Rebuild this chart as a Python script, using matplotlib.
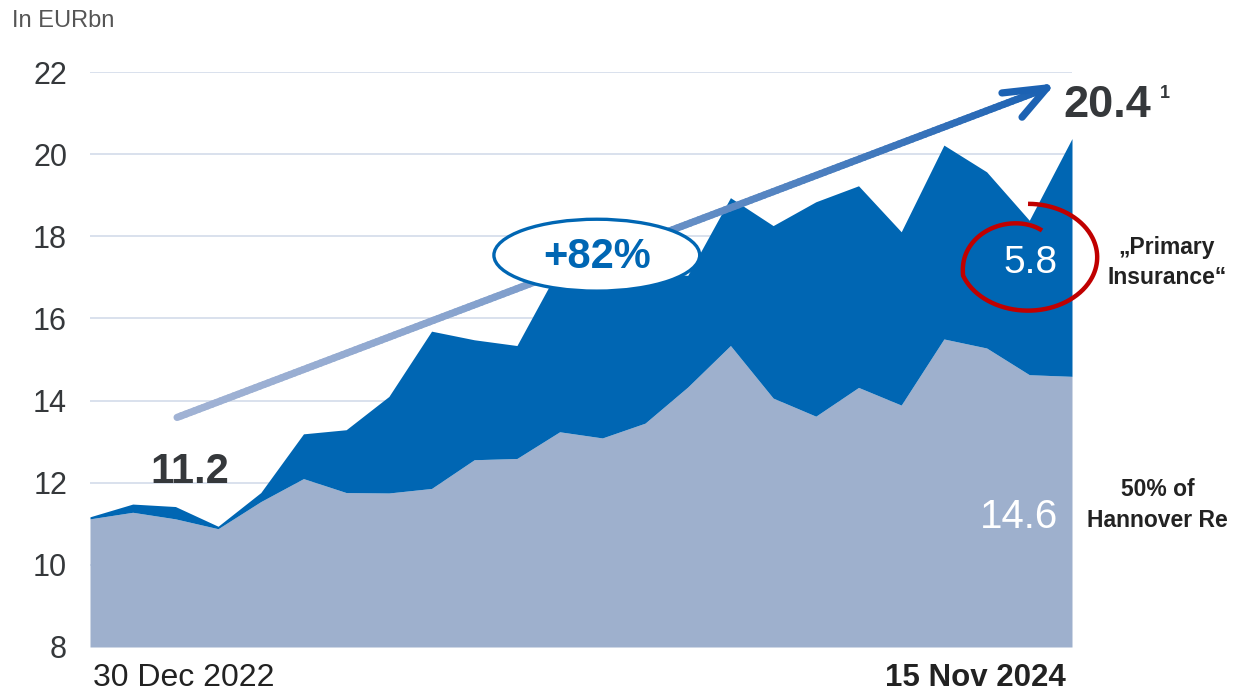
import matplotlib
matplotlib.use("Agg")
import matplotlib.pyplot as plt
import numpy as np
from matplotlib.collections import LineCollection
from matplotlib.patches import Ellipse
from matplotlib.colors import to_rgb

plt.rcParams['font.family'] = ['Liberation Sans', 'DejaVu Sans']

# market value in EURbn, 30 Dec 2022 .. 15 Nov 2024
hannover_re = [11.12, 11.28, 11.12, 10.88, 11.54, 12.10, 11.76, 11.75, 11.86, 12.56, 12.59, 13.24,
               13.09, 13.45, 14.33, 15.34, 14.06, 13.62, 14.32, 13.89, 15.50, 15.28, 14.63, 14.59]
primary_ins = [0.05, 0.20, 0.30, 0.06, 0.22, 1.09, 1.53, 2.35, 3.83, 2.92, 2.75, 4.01,
               3.91, 3.65, 2.72, 3.60, 4.20, 5.22, 4.91, 4.22, 4.72, 4.29, 3.76, 5.79]
yticks = [8, 10, 12, 14, 16, 18, 20, 22]
start_label = "30 Dec 2022"
end_label = "15 Nov 2024"

GREY_BLUE = "#9eb0cd"
BLUE = "#0066b3"
TXT = "#35383b"

x = np.arange(len(hannover_re))
lower = np.array(hannover_re)
total = lower + np.array(primary_ins)

fig = plt.figure(figsize=(12.34, 6.94), dpi=100)
ax = fig.add_axes([90/1234, 47/694, 982/1234, 575/694])
ax.set_xlim(0, len(x) - 1)
ax.set_ylim(8, 22)

for yv in yticks[1:]:
    ax.axhline(yv, color="#d3dcea", lw=1.2, zorder=0)

ax.fill_between(x, 8, lower, color=GREY_BLUE, lw=0, zorder=1)
ax.fill_between(x, lower, total, color=BLUE, lw=0, zorder=1)

ax.set_yticks(yticks)
ax.set_yticklabels([str(v) for v in yticks], fontsize=22, color=TXT)
ax.tick_params(axis='y', length=0, pad=16.5)
ax.set_xticks([])
for s in ax.spines.values():
    s.set_visible(False)

# trend arrow with colour gradient
x0, y0 = 2.04, 13.59
x1, y1 = 22.41, 21.61
n = 200
t = np.linspace(0, 1, n + 1)
px = x0 + (x1 - x0) * t
py = y0 + (y1 - y0) * t
segs = np.stack([np.column_stack([px[:-1], py[:-1]]), np.column_stack([px[1:], py[1:]])], axis=1)
c0 = np.array(to_rgb("#a0b2d4"))
c1 = np.array(to_rgb("#1c62b3"))
tm = ((t[:-1] + t[1:]) / 2) ** 1.5
cols = [c0 + (c1 - c0) * k for k in tm]
lc = LineCollection(segs, colors=cols, linewidths=5.2, capstyle='round', zorder=3, clip_on=False)
ax.add_collection(lc)
for ex, ey in [(21.36, 21.49), (21.83, 20.90)]:
    ax.plot([x1, ex], [y1, ey], color="#1c62b3", lw=5.2, solid_capstyle='round', zorder=3, clip_on=False)

# +82% bubble
ax.add_patch(Ellipse((11.87, 17.54), 4.82, 1.75, facecolor="white", edgecolor=BLUE, lw=2.4, zorder=4))
ax.text(11.87, 17.5, "+82%", fontsize=30, fontweight='bold', color=BLUE,
        ha='center', va='center', zorder=5)

# red hand-drawn circle
s = np.linspace(0, 382, 400)
r = np.where(s <= 250, 1.0, 1 - 0.46 * np.clip((s - 250) / 132, 0, 1) ** 0.9)
th = np.deg2rad(90 - s)
ax.plot(21.97 + 1.62 * r * np.cos(th), 17.49 + 1.30 * r * np.sin(th),
        color="#c00000", lw=3.2, solid_capstyle='butt', zorder=6, clip_on=False)

# value labels
ax.text(2.34, 12.0, "11.2", fontsize=30, fontweight='bold', color=TXT, ha='center', va='baseline', zorder=5)
ax.text(22.80, 20.90, "20.4", fontsize=32.5, fontweight='bold', color=TXT, ha='left', va='baseline',
        zorder=5, clip_on=False)
ax.text(25.06, 21.37, "1", fontsize=13, fontweight='bold', color=TXT, ha='left', va='baseline',
        zorder=5, clip_on=False)
ax.text(22.67, 17.11, "5.8", fontsize=28, color="white", ha='right', va='baseline', zorder=5)
ax.text(22.67, 10.90, "14.6", fontsize=29, color="white", ha='right', va='baseline', zorder=5)

ax.text(25.22, 17.37, "\u201ePrimary\nInsurance\u201c", fontsize=16.5, fontweight='bold', color="#222222",
        ha='center', va='center', linespacing=1.4, clip_on=False)
ax.text(25.01, 11.46, "50% of\nHannover Re", fontsize=16.5, fontweight='bold', color="#222222",
        ha='center', va='center', linespacing=1.45, clip_on=False)

# date labels
ax.text(0.07, 7.05, start_label, fontsize=23, color="#222222", ha='left', va='baseline', clip_on=False)
ax.text(22.86, 7.05, end_label, fontsize=22.5, fontweight='bold', color="#222222", ha='right',
        va='baseline', clip_on=False)

fig.text(12/1234, 1 - 27/694, "In EURbn", fontsize=17, color="#555555", ha='left', va='baseline')

fig.savefig("out.png", dpi=100)
